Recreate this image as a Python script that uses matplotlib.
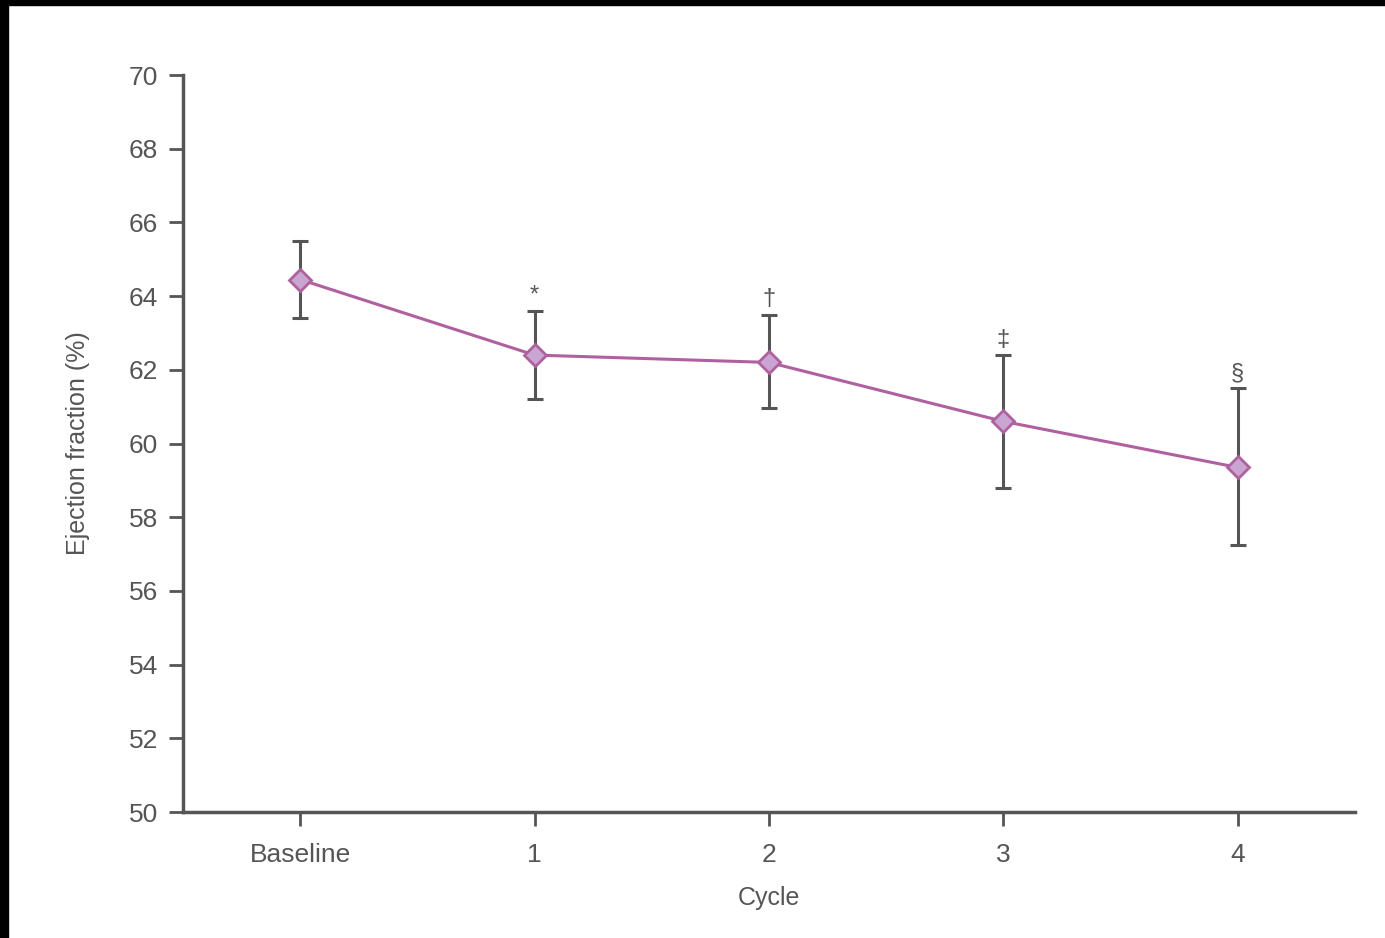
import matplotlib
matplotlib.use("Agg")
import matplotlib.pyplot as plt
from matplotlib.patches import Rectangle

plt.rcParams['font.family'] = ['Liberation Sans Narrow', 'Liberation Sans', 'DejaVu Sans']

cycles = ["Baseline", "1", "2", "3", "4"]
ef_mean = [64.45, 62.4, 62.2, 60.6, 59.35]
err_up = [1.05, 1.2, 1.3, 1.8, 2.15]
err_down = [1.05, 1.2, 1.25, 1.8, 2.1]
marks = ["", "*", "†", "‡", "§"]

grey = "#555555"
line_col = "#b0609f"
fill_col = "#c9a6d2"

fig = plt.figure(figsize=(13.85, 9.38), dpi=100)
ax = fig.add_axes([183 / 1385, 1 - 812 / 938, (1355 - 183) / 1385, (812 - 75) / 938])

x = list(range(len(cycles)))
ax.errorbar(x, ef_mean, yerr=[err_down, err_up], fmt='none', ecolor=grey,
            elinewidth=2.2, capsize=5.5, capthick=2.2, zorder=2)
ax.plot(x, ef_mean, color=line_col, lw=2.2, marker='D', markersize=11,
        markerfacecolor=fill_col, markeredgecolor=line_col, markeredgewidth=2, zorder=3)

for xi, m, up, e in zip(x, marks, ef_mean, err_up):
    if m:
        ax.annotate(m, (xi, up + e), xytext=(0, 3), textcoords='offset points',
                    ha='center', va='bottom', fontsize=17, color=grey)

ax.set_xlim(-0.5, 4.5)
ax.set_ylim(50, 70)
ax.set_yticks(range(50, 71, 2))
ax.set_xticks(x)
ax.set_xticklabels(cycles)

for s in ['top', 'right']:
    ax.spines[s].set_visible(False)
for s in ['left', 'bottom']:
    ax.spines[s].set_color(grey)
    ax.spines[s].set_linewidth(2.5)

ax.tick_params(axis='both', colors=grey, labelsize=19, width=2, length=10, pad=8)
ax.tick_params(axis='x', pad=12)

ax.set_xlabel("Cycle", fontsize=18, color=grey, labelpad=14)
ax.set_ylabel("Ejection fraction (%)", fontsize=18, color=grey, labelpad=28)

# black scan border on top and left edge
fig.patches.append(Rectangle((0, 1 - 5 / 938), 1, 5 / 938, transform=fig.transFigure,
                             color='black', zorder=10))
fig.patches.append(Rectangle((0, 0), 8 / 1385, 1, transform=fig.transFigure,
                             color='black', zorder=10))

fig.savefig("out.png", dpi=100)
